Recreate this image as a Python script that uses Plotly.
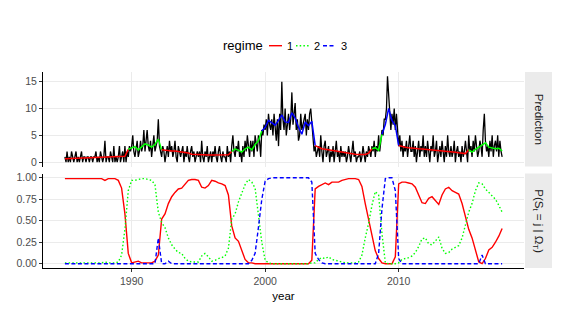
import numpy as np
import pandas as pd
import plotly.graph_objects as go

# ---------------- data ----------------
# monthly observed series, Jan 1985 .. Oct 2017
observed = [
    1,0,2,0,1,0,2,1,0,1,2,0,      # 1985
    1,0,1,2,0,1,1,0,1,1,0,1,      # 1986
    1,0,1,1,2,0,1,0,2,1,0,1,      # 1987
    4,0,1,1,0,2,1,0,3,0,1,0,      # 1988
    1,3,0,1,2,0,3,0,2,1,3,2,      # 1989
    3,5,2,1,3,4,1,2,4,2,3,6,      # 1990
    2,4,6,3,2,4,1,3,5,2,3,4,      # 1991
    8,3,2,1,3,2,0,2,3,1,4,2,      # 1992
    3,1,2,4,1,0,3,2,1,2,3,0,      # 1993
    2,1,3,1,0,2,3,1,2,0,1,2,      # 1994
    1,2,0,4,1,0,2,1,3,0,1,2,      # 1995
    0,2,1,3,1,0,2,3,1,0,2,1,      # 1996
    1,0,3,1,2,0,3,5,2,1,3,2,      # 1997
    4,1,2,0,3,1,4,2,5,3,1,4,      # 1998
    2,4,1,5,3,2,5,4,1,6,5,7,      # 1999
    6,8,5,9,7,6,8,5,9,7,4,8,      # 2000
    3,9,6,15,8,6,10,5,7,9,6,8,    # 2001
    13,7,9,11,6,8,4,5,9,6,7,8,    # 2002
    9,5,8,6,9,10,7,4,2,3,1,2,     # 2003
    3,1,5,2,0,3,4,1,2,3,0,2,      # 2004
    1,3,0,2,4,1,2,0,3,1,2,1,      # 2005
    2,0,1,3,1,0,2,4,1,2,0,1,      # 2006
    1,2,0,1,3,1,0,2,1,3,2,1,      # 2007
    3,2,4,1,3,2,5,2,4,6,5,8,      # 2008
    8,10,16,12,8,6,9,7,10,6,9,5,  # 2009
    3,5,2,4,1,3,2,4,1,3,5,2,      # 2010
    2,4,1,3,0,2,4,1,3,2,5,1,      # 2011
    3,1,4,2,0,3,2,5,1,2,4,0,      # 2012
    2,3,1,4,2,0,3,1,5,2,1,3,      # 2013
    1,2,4,0,2,3,1,2,0,3,1,2,      # 2014
    4,1,0,5,2,3,1,4,2,5,3,1,      # 2015
    2,4,3,1,6,9,4,2,3,1,4,2,      # 2016
    5,1,3,4,2,5,1,4,2,1,          # 2017
]

# quarterly model prediction, 1985Q1 .. 2017Q4
prediction = [
    0.65,0.68,0.70,0.72, 0.75,0.80,0.82,0.85, 0.87,0.90,0.92,0.95, 0.97,1.00,1.00,1.02,
    1.05,1.07,1.10,2.40, 2.6,2.9,2.3,2.9, 3.4,3.2,2.8,3.3, 4.3,2.3,2.2,2.2,
    2.1,2.1,2.0,1.95, 1.9,1.7,1.5,1.45, 1.4,1.4,1.4,1.35, 1.35,1.35,1.4,1.4,
    1.4,1.4,2.0,2.5, 2.2,1.9,2.5,2.8, 2.3,3.3,4.0,5.8, 6.5,7.8,7.4,6.9,
    7.8,8.8,7.5,7.4, 9.2,8.2,6.5,5.2, 7.5,6.8,7.6,3.1, 2.8,2.5,2.4,2.3,
    2.2,2.05,1.95,1.8, 1.7,1.65,1.55,1.5, 1.45,1.4,1.45,1.7, 2.5,2.7,2.2,5.2,
    7.0,10.0,7.8,6.8, 3.1,2.9,2.8,2.7, 2.6,2.55,2.5,2.45, 2.4,2.35,2.3,2.2,
    2.15,2.1,2.0,1.95, 1.9,1.85,1.75,1.7, 1.6,2.3,1.9,2.4, 2.8,3.3,3.6,2.8,
    2.6,2.5,2.6,2.1,
]

# smoothed regime probabilities, quarterly
prob_regime1 = [
    0.99,0.99,0.99,0.99, 0.99,0.99,0.99,0.99, 0.99,0.99,0.99,0.99, 0.97,0.99,0.99,0.99,
    0.97,0.88,0.58,0.12, 0.01,0.02,0.03,0.01, 0.01,0.01,0.01,0.03, 0.10,0.52,0.58,0.70,
    0.78,0.83,0.87,0.88, 0.93,0.97,0.98,0.98, 0.97,0.89,0.88,0.91, 0.97,0.96,0.94,0.93,
    0.91,0.80,0.44,0.30, 0.26,0.16,0.05,0.01, 0.01,0.00,0.00,0.00, 0.00,0.00,0.00,0.00,
    0.00,0.00,0.00,0.00, 0.00,0.00,0.00,0.00, 0.00,0.00,0.04,0.87, 0.90,0.92,0.94,0.92,
    0.95,0.95,0.95,0.97, 0.98,0.99,0.99,0.99, 0.98,0.90,0.70,0.52, 0.30,0.15,0.06,0.01,
    0.00,0.00,0.00,0.08, 0.93,0.95,0.95,0.94, 0.93,0.89,0.80,0.71, 0.70,0.76,0.78,0.74,
    0.69,0.80,0.87,0.89, 0.85,0.83,0.81,0.70, 0.55,0.40,0.30,0.15, 0.02,0.00,0.06,0.16,
    0.19,0.25,0.32,0.41,
]
prob_regime2 = [
    0.01,0.01,0.01,0.01, 0.01,0.01,0.01,0.01, 0.01,0.01,0.01,0.01, 0.02,0.01,0.01,0.01,
    0.02,0.10,0.40,0.85, 0.97,0.97,0.98,0.99, 0.99,0.98,0.97,0.92, 0.60,0.48,0.42,0.30,
    0.22,0.17,0.13,0.12, 0.06,0.03,0.02,0.02, 0.02,0.09,0.12,0.08, 0.03,0.04,0.06,0.07,
    0.09,0.18,0.52,0.58, 0.72,0.82,0.92,0.98, 0.95,0.88,0.58,0.25, 0.04,0.01,0.00,0.00,
    0.00,0.00,0.00,0.00, 0.00,0.00,0.00,0.00, 0.00,0.00,0.01,0.01, 0.05,0.07,0.06,0.08,
    0.05,0.04,0.03,0.02, 0.01,0.01,0.01,0.01, 0.02,0.10,0.30,0.47, 0.68,0.84,0.80,0.35,
    0.01,0.00,0.00,0.00, 0.01,0.05,0.06,0.07, 0.09,0.13,0.20,0.29, 0.30,0.23,0.22,0.26,
    0.31,0.18,0.12,0.13, 0.17,0.19,0.21,0.30, 0.45,0.60,0.70,0.85, 0.94,0.93,0.87,0.83,
    0.79,0.75,0.68,0.60,
]
prob_regime3 = [
    0.00,0.00,0.00,0.00, 0.00,0.00,0.00,0.00, 0.00,0.00,0.00,0.00, 0.00,0.00,0.00,0.00,
    0.00,0.00,0.00,0.00, 0.00,0.00,0.00,0.00, 0.00,0.00,0.00,0.00, 0.30,0.00,0.00,0.03,
    0.00,0.00,0.00,0.00, 0.00,0.00,0.00,0.00, 0.00,0.00,0.00,0.00, 0.00,0.00,0.00,0.00,
    0.00,0.00,0.00,0.00, 0.00,0.00,0.00,0.00, 0.04,0.12,0.42,0.75, 0.96,0.99,1.00,1.00,
    1.00,1.00,1.00,1.00, 1.00,1.00,1.00,1.00, 1.00,1.00,0.95,0.12, 0.05,0.01,0.00,0.00,
    0.00,0.00,0.00,0.00, 0.00,0.00,0.00,0.00, 0.00,0.00,0.00,0.00, 0.00,0.00,0.12,0.64,
    0.99,1.00,1.00,0.85, 0.06,0.00,0.00,0.00, 0.00,0.00,0.00,0.00, 0.00,0.00,0.00,0.00,
    0.00,0.00,0.00,0.00, 0.00,0.00,0.00,0.00, 0.00,0.00,0.00,0.00, 0.00,0.10,0.00,0.00,
    0.00,0.00,0.00,0.00,
]

regime_names = ["1", "2", "3"]
regime_colors = ["#FF0000", "#00FF00", "#0000FF"]
regime_dash = ["solid", "1.5px,2.2px", "4px,2.5px"]
x_ticks = ["1990", "2000", "2010"]

months = pd.date_range("1985-01-01", periods=len(observed), freq="MS")
quarters = pd.date_range("1985-01-01", periods=len(prediction), freq="QS")

# ---------------- figure ----------------
fig = go.Figure()
FONT = "Liberation Sans, Arial, Helvetica, sans-serif"

# top panel: observed + prediction coloured by most likely regime
fig.add_trace(go.Scatter(x=months, y=observed, mode="lines",
                         line=dict(color="black", width=1.3),
                         xaxis="x2", yaxis="y2", showlegend=False, hoverinfo="skip"))

probs = np.array([prob_regime1, prob_regime2, prob_regime3])
regime = probs.argmax(axis=0)
n = len(prediction)
start = 0
for i in range(1, n + 1):
    if i == n or regime[i] != regime[start]:
        stop = min(i + 1, n)
        r = regime[start]
        fig.add_trace(go.Scatter(x=quarters[start:stop], y=prediction[start:stop], mode="lines",
                                 line=dict(color=regime_colors[r], width=1.5),
                                 xaxis="x2", yaxis="y2", showlegend=False, hoverinfo="skip"))
        start = i

# bottom panel: probabilities
for k, p in enumerate([prob_regime1, prob_regime2, prob_regime3]):
    fig.add_trace(go.Scatter(x=quarters, y=p, mode="lines", name=regime_names[k],
                             line=dict(color=regime_colors[k], width=1.4, dash=regime_dash[k]),
                             xaxis="x", yaxis="y", showlegend=False))

# page body has an 8px default margin: the figure is shifted by that amount
OFF = 8
L, T = 43 - OFF, 72 - OFF
PW, PH = 481, 196
W, H = 567 - OFF, 315 - OFF
R = W - L - PW
B = H - T - PH


def px_x(px):
    return (px - OFF - L) / PW


def px_y(py):
    return (T + PH - (py - OFF)) / PH


top_dom = [px_y(166.5), 1.0]
bot_dom = [0.0, px_y(173.5)]

grid = "#ebebeb"
tickfont = dict(family=FONT, size=10.5, color="#4d4d4d")
xrange = ["1983-05-13", "2019-05-22"]
tickvals = [pd.Timestamp(f"{t}-01-01") for t in x_ticks]

fig.update_layout(
    width=W, height=H,
    margin=dict(l=L, r=R, t=T, b=B, autoexpand=False),
    paper_bgcolor="white", plot_bgcolor="white",
    font=dict(family=FONT, color="#1a1a1a"),
    xaxis=dict(domain=[0, 1], anchor="y", type="date", range=xrange,
               tickvals=tickvals, ticktext=x_ticks, tickfont=tickfont,
               showgrid=True, gridcolor=grid, gridwidth=1, zeroline=False,
               showline=True, linecolor="black", linewidth=1,
               ticks="outside", ticklen=3, tickcolor="#333333",
               title=dict(text="year", font=dict(family=FONT, size=11.5, color="black"), standoff=6)),
    xaxis2=dict(domain=[0, 1], anchor="y2", type="date", range=xrange, matches="x",
                tickvals=tickvals, showticklabels=False,
                showgrid=True, gridcolor=grid, gridwidth=1, zeroline=False,
                showline=False, ticks=""),
    yaxis=dict(domain=bot_dom, anchor="x", range=[-0.05, 1.05],
               tickvals=[0, 0.25, 0.5, 0.75, 1.0],
               ticktext=["0.00", "0.25", "0.50", "0.75", "1.00"], tickfont=tickfont,
               showgrid=True, gridcolor=grid, gridwidth=1, zeroline=False,
               showline=True, linecolor="black", linewidth=1,
               ticks="outside", ticklen=3, tickcolor="#333333"),
    yaxis2=dict(domain=top_dom, anchor="x2", range=[-0.8, 16.8],
                tickvals=[0, 5, 10, 15], tickfont=tickfont,
                showgrid=True, gridcolor=grid, gridwidth=1, zeroline=False,
                showline=True, linecolor="black", linewidth=1,
                ticks="outside", ticklen=3, tickcolor="#333333"),
)

# facet strips on the right
strip_x0, strip_x1 = px_x(525), px_x(552)
shapes = []
annotations = []
for dom, label in [(top_dom, "Prediction"),
                   (bot_dom, "P(S<sub>t</sub> = j | \u03a9<sub>T</sub>)")]:
    shapes.append(dict(type="rect", xref="paper", yref="paper",
                       x0=strip_x0, x1=strip_x1, y0=dom[0], y1=dom[1],
                       fillcolor="#ebebeb", line=dict(width=0), layer="below"))
    annotations.append(dict(xref="paper", yref="paper", x=(strip_x0 + strip_x1) / 2,
                            y=(dom[0] + dom[1]) / 2, text=label, textangle=90,
                            showarrow=False, xanchor="center", yanchor="middle",
                            font=dict(family=FONT, size=11.5, color="#1a1a1a")))

# legend (title + keys) across the top
ly = px_y(45.7)
annotations.append(dict(xref="paper", yref="paper", x=px_x(221), y=ly, text="regime",
                        showarrow=False, xanchor="left", yanchor="middle",
                        font=dict(family=FONT, size=13, color="black")))
key_x = [(269, 282, 285), (296, 309, 312), (323, 335, 338.5)]
for k, (a, b, t) in enumerate(key_x):
    shapes.append(dict(type="line", xref="paper", yref="paper",
                       x0=px_x(a), x1=px_x(b), y0=ly, y1=ly,
                       line=dict(color=regime_colors[k], width=1.4, dash=regime_dash[k])))
    annotations.append(dict(xref="paper", yref="paper", x=px_x(t), y=ly, text=regime_names[k],
                            showarrow=False, xanchor="left", yanchor="middle",
                            font=dict(family=FONT, size=11, color="black")))

fig.update_layout(shapes=shapes, annotations=annotations)
fig.write_html("out.html")
